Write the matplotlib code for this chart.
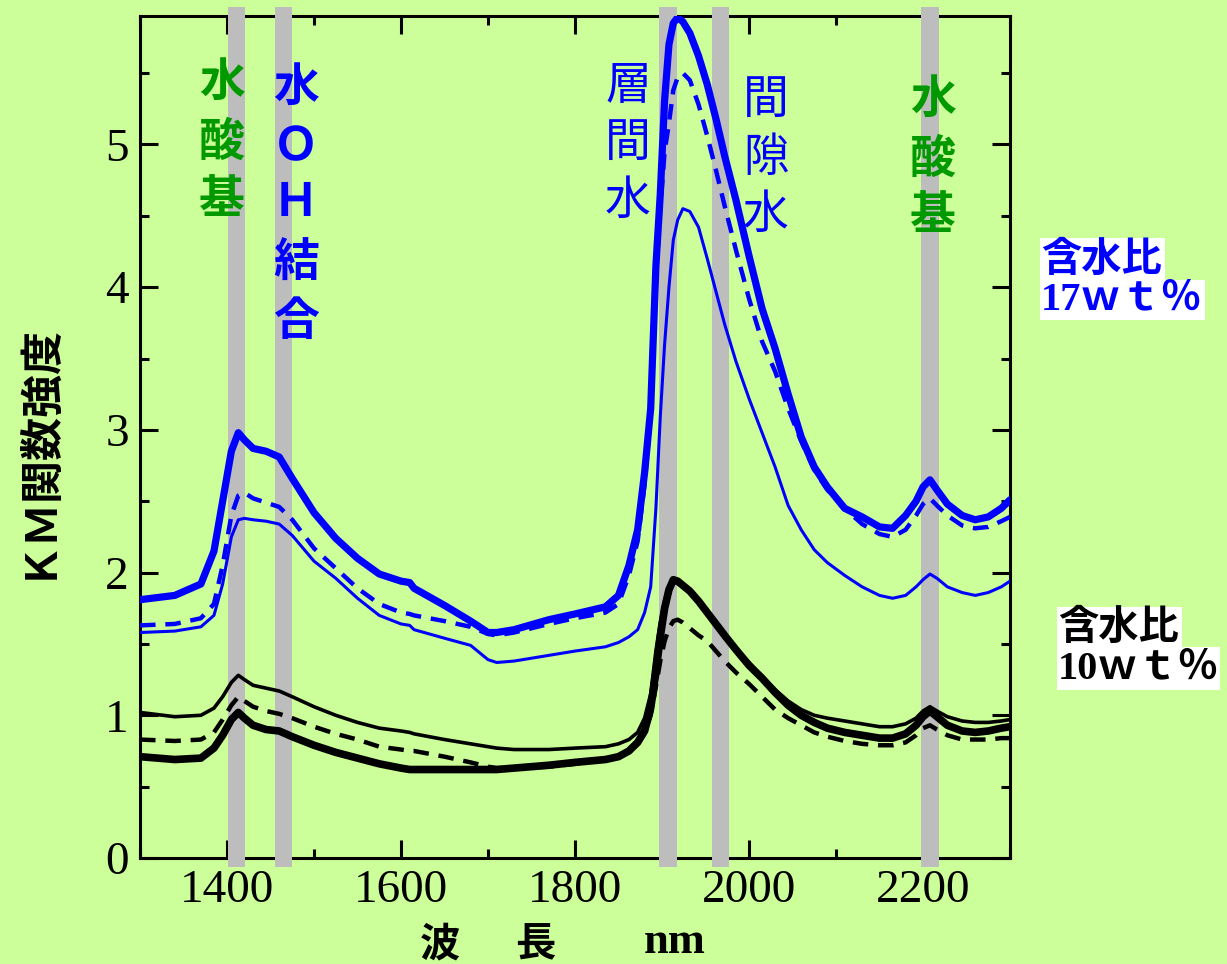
import matplotlib
matplotlib.use("Agg")
import matplotlib.pyplot as plt
from matplotlib.patches import Rectangle

# ---------------- data ----------------
wavelength = [1300, 1340, 1370, 1385, 1395, 1405, 1413, 1420, 1430, 1445, 1460, 1475,
              1500, 1525, 1550, 1575, 1600, 1610, 1615, 1650, 1680, 1700, 1710, 1730,
              1770, 1800, 1835, 1850, 1862, 1872, 1880, 1887, 1893, 1898, 1903, 1908,
              1913, 1918, 1924, 1932, 1942, 1952, 1962, 1972, 1985, 2000, 2015, 2030,
              2045, 2060, 2075, 2090, 2110, 2130, 2150, 2165, 2180, 2192, 2200, 2208,
              2216, 2228, 2245, 2260, 2275, 2290, 2300]

blue_thick = [1.81, 1.84, 1.92, 2.15, 2.50, 2.85, 2.98, 2.93, 2.87, 2.85, 2.81, 2.66,
              2.42, 2.24, 2.10, 1.99, 1.94, 1.93, 1.89, 1.77, 1.66, 1.58, 1.58, 1.60,
              1.67, 1.71, 1.76, 1.84, 2.05, 2.30, 2.70, 3.15, 4.15, 4.65, 5.31, 5.70,
              5.85, 5.89, 5.86, 5.78, 5.62, 5.42, 5.18, 4.92, 4.61, 4.22, 3.85, 3.57,
              3.25, 2.95, 2.74, 2.60, 2.45, 2.39, 2.32, 2.31, 2.40, 2.50, 2.60, 2.65,
              2.58, 2.48, 2.40, 2.37, 2.39, 2.45, 2.51]

blue_dashed = [1.63, 1.64, 1.68, 1.78, 2.05, 2.40, 2.54, 2.56, 2.52, 2.49, 2.46, 2.37,
               2.17, 2.03, 1.89, 1.78, 1.72, 1.71, 1.70, 1.66, 1.62, 1.57, 1.56, 1.58,
               1.64, 1.68, 1.72, 1.78, 1.98, 2.22, 2.62, 3.10, 4.05, 4.55, 4.95, 5.15,
               5.38, 5.47, 5.50, 5.45, 5.28, 5.06, 4.82, 4.57, 4.26, 3.92, 3.62, 3.41,
               3.15, 2.92, 2.72, 2.58, 2.45, 2.34, 2.27, 2.25, 2.30, 2.40, 2.48, 2.52,
               2.47, 2.40, 2.33, 2.31, 2.32, 2.36, 2.39]

blue_thin = [1.58, 1.59, 1.62, 1.70, 1.92, 2.25, 2.37, 2.38, 2.37, 2.36, 2.34, 2.26,
             2.08, 1.96, 1.82, 1.70, 1.64, 1.63, 1.60, 1.54, 1.49, 1.39, 1.37, 1.38,
             1.42, 1.45, 1.48, 1.51, 1.55, 1.60, 1.72, 1.90, 2.45, 3.09, 3.60, 4.00,
             4.33, 4.47, 4.55, 4.53, 4.42, 4.20, 3.97, 3.74, 3.48, 3.22, 2.98, 2.74,
             2.47, 2.30, 2.16, 2.07, 1.98, 1.90, 1.84, 1.82, 1.84, 1.90, 1.95, 1.99,
             1.96, 1.90, 1.86, 1.84, 1.86, 1.90, 1.94]

black_thin = [1.02, 0.99, 1.00, 1.05, 1.13, 1.23, 1.28, 1.25, 1.21, 1.19, 1.17, 1.13,
              1.06, 1.00, 0.95, 0.91, 0.89, 0.88, 0.87, 0.83, 0.80, 0.78, 0.77, 0.76,
              0.76, 0.77, 0.78, 0.80, 0.83, 0.88, 0.98, 1.15, 1.45, 1.65, 1.80, 1.90,
              1.94, 1.93, 1.90, 1.87, 1.80, 1.72, 1.64, 1.56, 1.46, 1.37, 1.27, 1.18,
              1.10, 1.04, 1.00, 0.98, 0.96, 0.94, 0.92, 0.92, 0.94, 0.98, 1.03, 1.06,
              1.03, 0.99, 0.96, 0.95, 0.95, 0.96, 0.97]

black_dashed = [0.83, 0.82, 0.83, 0.88, 0.97, 1.07, 1.13, 1.10, 1.06, 1.03, 1.01, 0.98,
                0.92, 0.87, 0.83, 0.78, 0.76, 0.75, 0.75, 0.71, 0.67, 0.64, 0.63, 0.63,
                0.64, 0.66, 0.69, 0.71, 0.75, 0.80, 0.88, 1.00, 1.20, 1.38, 1.52, 1.61,
                1.66, 1.67, 1.65, 1.61, 1.56, 1.52, 1.45, 1.38, 1.30, 1.22, 1.13, 1.04,
                0.98, 0.93, 0.88, 0.85, 0.82, 0.80, 0.79, 0.79, 0.81, 0.86, 0.91, 0.93,
                0.90, 0.86, 0.83, 0.83, 0.83, 0.84, 0.84]

black_thick = [0.71, 0.69, 0.70, 0.77, 0.86, 0.97, 1.02, 0.98, 0.93, 0.90, 0.89, 0.85,
               0.79, 0.74, 0.70, 0.66, 0.63, 0.62, 0.62, 0.62, 0.62, 0.62, 0.62, 0.63,
               0.65, 0.67, 0.69, 0.71, 0.75, 0.81, 0.89, 1.05, 1.30, 1.55, 1.75, 1.88,
               1.95, 1.94, 1.91, 1.87, 1.80, 1.72, 1.64, 1.56, 1.46, 1.35, 1.26, 1.16,
               1.07, 1.00, 0.95, 0.91, 0.88, 0.86, 0.84, 0.84, 0.87, 0.93, 0.99, 1.03,
               0.99, 0.93, 0.89, 0.88, 0.89, 0.91, 0.92]

band_centers = [1411, 1465, 1907, 1967, 2208]
band_width = 20

x_ticks = [1400, 1600, 1800, 2000, 2200]
y_ticks = [0, 1, 2, 3, 4, 5]

# ---------------- style ----------------
BG = "#CCFF99"
BLUE = "#0000FF"
GREEN = "#009900"
GRAY = "#BDBDBD"
CJK = ["Noto Sans CJK JP", "DejaVu Sans"]
SERIF = ["Liberation Serif", "Noto Sans CJK JP"]

W, H = 1227, 964
fig = plt.figure(figsize=(W / 100, H / 100), dpi=100, facecolor=BG)
ax = fig.add_axes([140 / W, 1 - 858 / H, 870 / W, 842 / H])
ax.set_facecolor(BG)

ax.set_xlim(1300, 2300)
ax.set_ylim(0, 5.9)

for c in band_centers:
    ax.axvspan(c - band_width / 2, c + band_width / 2, ymin=-0.011, ymax=1.011,
               color=GRAY, lw=0, zorder=2.6, clip_on=False)

common = dict(zorder=3, solid_joinstyle="round", solid_capstyle="round")
ax.plot(wavelength, blue_thin, color=BLUE, lw=2.2, **common)
ax.plot(wavelength, blue_dashed, color=BLUE, lw=3.2, ls=(0, (3.5, 2.2)), **common)
ax.plot(wavelength, blue_thick, color=BLUE, lw=5.2, **common)
ax.plot(wavelength, black_thin, color="black", lw=2.6, **common)
ax.plot(wavelength, black_dashed, color="black", lw=3.2, ls=(0, (3.5, 2.2)), **common)
ax.plot(wavelength, black_thick, color="black", lw=5.5, **common)

for s in ax.spines.values():
    s.set_linewidth(2.2)

ax.set_xticks(x_ticks)
ax.set_xticks([1300 + 100 * i for i in range(11)], minor=True)
ax.set_yticks(y_ticks)
ax.set_yticks([0.5 * i for i in range(12)], minor=True)
ax.tick_params(which="both", direction="in", top=True, right=True, width=2.2,
               labelsize=34, pad=8)
ax.tick_params(which="major", length=13)
ax.tick_params(which="minor", length=6.5)
for lab in ax.get_xticklabels() + ax.get_yticklabels():
    lab.set_fontfamily(SERIF)


def ftxt(xp, yp, s, **kw):
    fig.text(xp / W, 1 - yp / H, s, ha="center", va="center", **kw)


def column(xp, ys, chars, color, weight, size=33):
    for y, ch in zip(ys, chars):
        ftxt(xp, y, ch, color=color, fontweight=weight, fontsize=size, family=CJK)


column(222, [83, 143, 200], "水酸基", GREEN, "bold")
column(296, [88, 147, 203, 264, 322], "水ＯＨ結合", BLUE, "bold")
column(628, [86, 143, 201], "層間水", BLUE, "normal")
column(766, [100, 158, 215], "間隙水", BLUE, "normal")
column(933, [100, 160, 216], "水酸基", GREEN, "bold")


# right-hand labels with white boxes
def label_box(x0, y0, x1, y1, s, color, fams):
    fig.patches.append(Rectangle((x0 / W, 1 - y1 / H), (x1 - x0) / W, (y1 - y0) / H,
                                 transform=fig.transFigure, facecolor="white",
                                 edgecolor="none", zorder=1))
    fig.text((x0 + 1) / W, 1 - (y0 + y1) / 2 / H, s, ha="left", va="center",
             color=color, fontweight="bold", fontsize=29, family=fams, zorder=2)


label_box(1040, 238, 1165, 280, "含水比", BLUE, CJK)
label_box(1040, 280, 1205, 320, "17ｗｔ％", BLUE, SERIF)
label_box(1057, 607, 1182, 647, "含水比", "black", CJK)
label_box(1057, 647, 1220, 690, "10ｗｔ％", "black", SERIF)

# axis labels
fig.text(35 / W, 1 - 450 / H, "ＫＭ関数強度", rotation=90, ha="center", va="center",
         fontsize=31, fontweight="bold", family=CJK)
ftxt(440, 945, "波", fontsize=29, fontweight="bold", family=CJK)
ftxt(535, 945, "長", fontsize=29, fontweight="bold", family=CJK)
ftxt(675, 942, "nm", fontsize=32, fontweight="bold", family=SERIF)

fig.savefig("out.png", dpi=100, facecolor=BG)
